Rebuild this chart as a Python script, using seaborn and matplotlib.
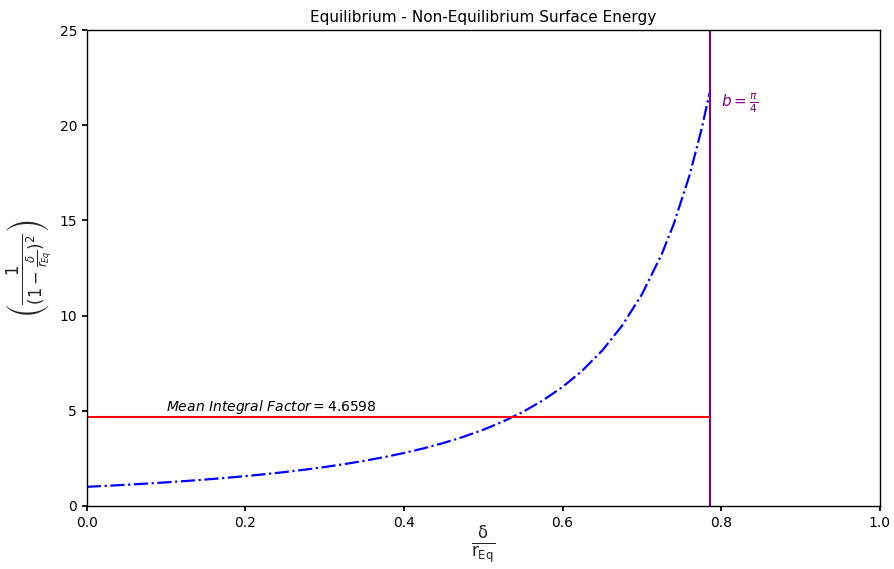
import numpy as np
import pandas as pd
import matplotlib
matplotlib.use("Agg")
import matplotlib.pyplot as plt
import seaborn as sns

# Curve values
x_vals = [0.0, 0.025, 0.05, 0.075, 0.1, 0.125, 0.15, 0.175, 0.2, 0.225, 0.25,
          0.275, 0.3, 0.325, 0.35, 0.375, 0.4, 0.425, 0.45, 0.475, 0.5, 0.525,
          0.55, 0.575, 0.6, 0.625, 0.65, 0.675, 0.7, 0.725, 0.74, 0.76, 0.775, 0.7854]
y_vals = [1.0, 1.0519, 1.108, 1.1687, 1.2346, 1.3061, 1.3841, 1.4692, 1.5625, 1.6649,
          1.7778, 1.9025, 2.0408, 2.1948, 2.3669, 2.56, 2.7778, 3.0246, 3.3058, 3.6281,
          4.0, 4.4321, 4.9383, 5.5363, 6.25, 7.1111, 8.1633, 9.4675, 11.1111, 13.2231,
          14.793, 17.361, 19.7531, 21.714]
b_value = 0.7854
mean_factor = 4.6598

sns.set_theme(style="ticks")
plt.rcParams['font.family'] = ['DejaVu Sans']

fig = plt.figure(figsize=(8.95, 5.69), dpi=100)
ax = fig.add_axes([0.097, 0.111, 0.886, 0.836])

df = pd.DataFrame({"x": x_vals, "y": y_vals})
sns.lineplot(data=df, x="x", y="y", ax=ax, color="blue", linestyle="-.",
             linewidth=1.6, sort=False)

ax.axvline(b_value, color="purple", linewidth=1.5)
ax.hlines(mean_factor, 0, b_value, color="red", linewidth=1.5)

ax.text(0.1, mean_factor + 0.35, r"$Mean\ Integral\ Factor = 4.6598$",
        fontsize=10, color="black")
ax.text(0.8, 21.0, r"$b = \frac{\pi}{4}$", fontsize=11, color="purple")

ax.set_xlim(0, 1.0)
ax.set_ylim(0, 25)
ax.set_xticks([0.0, 0.2, 0.4, 0.6, 0.8, 1.0])
ax.set_yticks([0, 5, 10, 15, 20, 25])
ax.tick_params(labelsize=10, length=3.5, color="black", labelcolor="black")
for s in ax.spines.values():
    s.set_visible(True)
    s.set_color("black")
    s.set_linewidth(1.0)

ax.set_title("Equilibrium - Non-Equilibrium Surface Energy", fontsize=11, color="black")
ax.set_xlabel(r"$\mathsf{\frac{\delta}{r_{Eq}}}$", fontsize=17, labelpad=-3)
ax.set_ylabel(r"$\left(\frac{1}{(1-\frac{\delta}{r_{Eq}})^2}\right)$", fontsize=17)

fig.savefig("out.png", dpi=100)
